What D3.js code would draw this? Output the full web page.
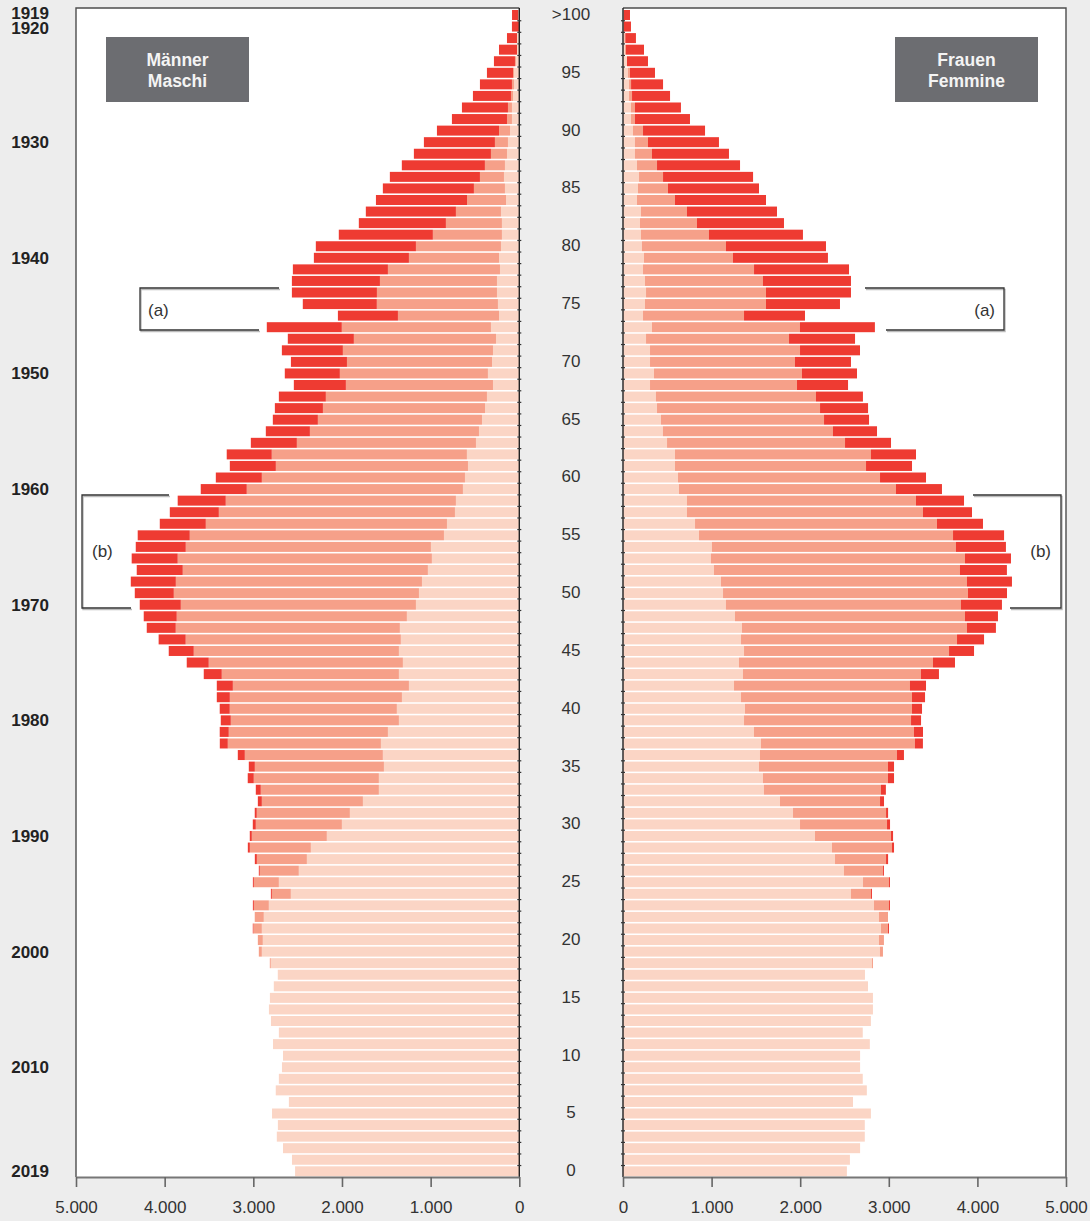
<!DOCTYPE html>
<html><head><meta charset="utf-8">
<script src="https://cdn.jsdelivr.net/npm/d3@7"></script>
<style>
html,body{margin:0;padding:0;background:#ededed;}
svg{display:block;font-family:"Liberation Sans",Arial,Helvetica,sans-serif;}
</style></head><body>
<svg id="chart" width="1090" height="1221"></svg>
<script>
// ---- categories ----
const ages = d3.range(0, 101);            // 0 .. 100 (100 = ">100")
const ageTicks = [100,95,90,85,80,75,70,65,60,55,50,45,40,35,30,25,20,15,10,5,0];
const ageTickLabels = [">100","95","90","85","80","75","70","65","60","55","50","45","40","35","30","25","20","15","10","5","0"];
const birthYears = [1919,1920,1930,1940,1950,1960,1970,1980,1990,2000,2010,2019];
const refYear = 2019;
const xTicks = [0,1000,2000,3000,4000,5000];
const boxMale = ["Männer","Maschi"];
const boxFemale = ["Frauen","Femmine"];

// ---- series values (index = age 0..100) ----
const maleInner = [2529,2564,2665,2735,2723,2789,2599,2747,2712,2677,2665,2778,2712,2801,2824,2813,2769,2724,
 2803,2904,2893,2904,2882,2825,2577,2712,2487,2396,2351,2171,2001,1911,1764,1584,1584,1527,1539,1561,1482,1358,
 1381,1324,1245,1358,1313,1358,1336,1347,1268,1166,1132,1098,1031,986,997,850,816,726,715,636,
 613,579,591,489,455,421,387,365,297,354,308,297,263,320,229,241,252,252,218,229,
 207,196,196,207,150,162,173,162,139,128,105,83,83,71,60,60,38,26,26,4,12];
const maleMiddle = [0,0,0,0,0,0,0,0,0,0,0,0,0,0,0,0,0,0,
 11,34,56,95,102,169,214,282,440,564,688,846,971,1050,1140,1332,1411,1456,1557,1727,1795,1896,
 1885,1941,1986,1998,2190,2314,2427,2528,2596,2652,2765,2776,2765,2867,2765,2867,2720,2663,2596,2438,
 2291,2167,2201,2020,1907,1851,1828,1817,1659,1670,1636,1693,1603,1682,1140,1366,1354,1320,1264,1016,
 959,779,632,508,440,350,271,226,181,147,124,56,45,23,23,11,11,0,0,0,0];
const maleOuter = [0,0,0,0,0,0,0,0,0,0,0,0,0,0,0,0,0,0,
 0,0,0,7,0,11,11,11,11,23,23,23,34,23,45,56,68,68,79,90,102,113,
 113,147,181,203,248,282,305,327,372,463,440,508,519,519,564,587,519,553,542,519,
 519,519,508,519,497,508,542,530,587,621,632,688,745,846,677,835,959,993,1072,1072,
 1129,1061,982,1016,1027,1027,1016,937,869,801,700,621,519,429,361,294,237,203,113,79,70];

const femaleInner = [2527,2561,2676,2729,2729,2798,2596,2752,2706,2676,2676,2786,2706,2798,2821,2821,2765,2731,
 2810,2900,2889,2912,2889,2833,2573,2709,2494,2393,2359,2167,1998,1919,1772,1591,1580,1535,1546,1557,1478,1366,
 1377,1332,1253,1354,1309,1366,1332,1343,1264,1162,1129,1106,1027,993,1004,858,813,722,722,632,
 621,587,587,497,451,429,384,372,305,350,305,305,260,327,226,248,260,248,226,237,
 214,203,192,203,158,169,181,158,135,135,113,90,90,68,68,56,45,23,15,8,8];
const femaleMiddle = [0,0,0,0,0,0,0,0,0,0,0,0,0,0,0,0,0,0,
 11,34,56,79,102,169,226,293,440,576,677,858,982,1050,1129,1320,1411,1456,1546,1738,1806,1885,
 1885,1930,1986,2009,2190,2314,2438,2539,2596,2652,2765,2776,2776,2867,2754,2867,2731,2664,2585,2449,
 2280,2156,2212,2009,1919,1840,1840,1806,1659,1670,1636,1693,1614,1670,1140,1366,1354,1332,1253,1004,
 948,767,643,519,429,339,271,226,192,147,113,45,45,34,23,23,0,11,11,0,0];
const femaleOuter = [0,0,0,0,0,0,0,0,0,0,0,0,0,0,0,0,0,0,
 0,0,0,11,0,11,11,11,11,23,23,23,34,23,45,56,68,68,79,90,102,113,
 113,147,181,203,248,282,305,327,372,463,440,508,530,519,564,576,519,553,542,519,
 519,519,508,519,497,508,542,530,576,621,632,677,745,846,688,835,959,993,1072,1072,
 1129,1061,982,1016,1027,1027,1016,937,869,801,700,621,519,429,361,282,237,203,120,82,71];

const segKeys = ["inner","middle","outer"];
const segColors = {inner:"#fbd5c5", middle:"#f6a089", outer:"#ee3b32"};

// ---- layout ----
const svg = d3.select("#chart");
const plotTop = 8, plotBottom = 1177;
const mL = 76, mR = 519.3, fL = 623, fR = 1066;

const y = d3.scaleBand().domain(ages.slice().reverse()).range([9.2, 1177.1])
  .paddingInner(0.135).paddingOuter(0.0675);
const xm = d3.scaleLinear().domain([0,5000]).range([mR, mL]);
const xf = d3.scaleLinear().domain([0,5000]).range([fL, fR]);

const loc = d3.formatLocale({decimal:",", thousands:".", grouping:[3], currency:["",""]});
const fmt = loc.format(",");

// frames
svg.append("rect").attr("x", mL).attr("y", plotTop).attr("width", mR-mL).attr("height", plotBottom-plotTop).attr("fill","#fff");
svg.append("rect").attr("x", fL).attr("y", plotTop).attr("width", fR-fL).attr("height", plotBottom-plotTop).attr("fill","#fff");

function table(inner, middle, outer){
  return ages.map(a => ({age:a, inner:inner[a], middle:middle[a], outer:outer[a]}));
}
const stack = d3.stack().keys(segKeys);
const maleStack = stack(table(maleInner, maleMiddle, maleOuter));
const femaleStack = stack(table(femaleInner, femaleMiddle, femaleOuter));

function drawSide(series, x, cls){
  const g = svg.append("g").attr("class", cls);
  g.selectAll("g").data(series).join("g").attr("fill", d => segColors[d.key])
    .selectAll("rect").data(d => d).join("rect")
    .attr("y", d => y(d.data.age))
    .attr("height", y.bandwidth())
    .attr("x", d => Math.min(x(d[0]), x(d[1])))
    .attr("width", d => Math.abs(x(d[1]) - x(d[0])));
}
drawSide(maleStack, xm, "male");
drawSide(femaleStack, xf, "female");

// frame lines
const frameCol = "#4d4d4d";
svg.append("path").attr("d", `M${mL},${plotBottom}V${plotTop}H${mR}`).attr("fill","none").attr("stroke",frameCol).attr("stroke-width",1.4);
svg.append("path").attr("d", `M${fL},${plotTop}H${fR}V${plotBottom}`).attr("fill","none").attr("stroke",frameCol).attr("stroke-width",1.4);

// zero axis lines with small ticks at band boundaries
const step = y.step();
const boundaries = ages.slice(0,100).map(a => y(a) - step*y.paddingInner()/2);
[mR, fL].forEach(xx => {
  svg.append("line").attr("x1", xx).attr("x2", xx).attr("y1", plotTop).attr("y2", plotBottom)
    .attr("stroke","#222").attr("stroke-width",1.4);
  svg.append("g").selectAll("line").data(boundaries).join("line")
    .attr("x1", xx-2).attr("x2", xx+2).attr("y1", d=>d).attr("y2", d=>d)
    .attr("stroke","#333").attr("stroke-width",1.2);
});

// bottom axes
function styleAxis(g){
  g.select(".domain").attr("stroke","#777").attr("stroke-width",2);
  g.selectAll(".tick line").attr("stroke","#666").attr("stroke-width",1.6);
  g.selectAll(".tick text").attr("fill","#333").attr("font-size",17).attr("font-family","Liberation Sans, Arial, sans-serif");
}
svg.append("g").attr("transform",`translate(0,${plotBottom})`)
  .call(d3.axisBottom(xm).tickValues(xTicks).tickFormat(fmt).tickSize(10).tickSizeOuter(0).tickPadding(14))
  .call(styleAxis);
svg.append("g").attr("transform",`translate(0,${plotBottom})`)
  .call(d3.axisBottom(xf).tickValues(xTicks).tickFormat(fmt).tickSize(10).tickSizeOuter(0).tickPadding(14))
  .call(styleAxis);

// age labels (middle)
svg.append("g").selectAll("text").data(ageTicks).join("text")
  .attr("x", 571).attr("y", a => y(a) + y.bandwidth()/2 - 1)
  .attr("dy","0.35em").attr("text-anchor","middle")
  .attr("font-size",17).attr("fill","#333")
  .text((a,i) => ageTickLabels[i]);

// birth year labels (left); the two top labels are nudged apart as in the original
const yearNudge = {1919:-1.5, 1920:1.5};
svg.append("g").selectAll("text").data(birthYears).join("text")
  .attr("x", 49).attr("y", yr => y(refYear - yr) + y.bandwidth()/2 + (yearNudge[yr] || 0))
  .attr("dy","0.35em").attr("text-anchor","end")
  .attr("font-size",17).attr("font-weight","bold").attr("fill","#222")
  .text(yr => yr);

// title boxes
function box(x0, lines){
  const g = svg.append("g");
  g.append("rect").attr("x", x0).attr("y", 37).attr("width", 143).attr("height", 65).attr("fill","#6c6d71");
  g.selectAll("text").data(lines).join("text")
    .attr("x", x0 + 71.5).attr("y", (d,i) => 60 + i*21).attr("dy","0.35em")
    .attr("text-anchor","middle").attr("font-size",17.5).attr("font-weight","bold").attr("fill","#f4f4f4")
    .text(d => d);
}
box(106, boxMale);
box(895, boxFemale);

// annotation brackets
function bracket(path, lx, ly, label, anchor){
  svg.append("path").attr("d", path).attr("fill","none").attr("stroke","#bbb").attr("stroke-width",1.4).attr("transform","translate(1,1.5)");
  svg.append("path").attr("d", path).attr("fill","none").attr("stroke","#333").attr("stroke-width",1.3);
  svg.append("text").attr("x", lx).attr("y", ly).attr("dy","0.35em").attr("text-anchor",anchor)
    .attr("font-size",17).attr("fill","#333").text(label);
}
bracket("M279,288H140V330H259", 148, 310, "(a)", "start");
bracket("M865,288H1004V330H886", 995, 310, "(a)", "end");
bracket("M169,495H82V608H131", 92, 551, "(b)", "start");
bracket("M973,495H1061V608H1010", 1051, 551, "(b)", "end");
</script>
</body></html>
